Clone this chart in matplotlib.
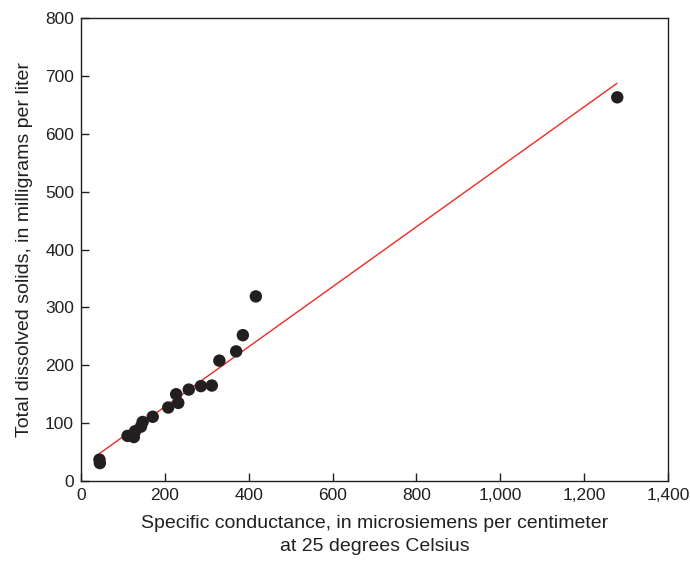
import matplotlib
matplotlib.use("Agg")
import matplotlib.pyplot as plt
from matplotlib.ticker import FuncFormatter

# Specific conductance (uS/cm) and total dissolved solids (mg/L)
conductance = [44, 45, 111, 126, 129, 143, 147, 171, 208, 227, 232, 257, 286, 312,
               330, 370, 386, 417, 1279]
tds = [37, 31, 78, 76, 86, 94, 102, 111, 127, 150, 135, 158, 164, 165,
       208, 224, 252, 319, 663]

# Regression line end points
line_x = [45, 1278]
line_y = [48, 687]

plt.rcParams["font.family"] = ["Liberation Sans", "DejaVu Sans"]

fig = plt.figure(figsize=(6.9, 5.62), dpi=100)
ax = fig.add_axes([0.1174, 0.1441, 0.8507, 0.8238])

ax.plot(line_x, line_y, color="#ee2a24", linewidth=1.0, zorder=2)
ax.scatter(conductance, tds, s=80, color="#231f20", edgecolors="none", zorder=3)

ax.set_xlim(0, 1400)
ax.set_ylim(0, 800)
ax.set_xticks(range(0, 1401, 200))
ax.set_yticks(range(0, 801, 100))
ax.xaxis.set_major_formatter(FuncFormatter(lambda v, p: f"{int(v):,}"))

ax.tick_params(direction="in", length=6, width=1, color="#231f20",
               labelsize=12.5, labelcolor="#231f20", pad=5)
for s in ax.spines.values():
    s.set_color("#231f20")
    s.set_linewidth(1)

ax.set_xlabel("Specific conductance, in microsiemens per centimeter\nat 25 degrees Celsius",
              fontsize=14, color="#231f20", labelpad=9, linespacing=1.45)
ax.set_ylabel("Total dissolved solids, in milligrams per liter",
              fontsize=14, color="#231f20", labelpad=9)

fig.savefig("out.png", dpi=100)
